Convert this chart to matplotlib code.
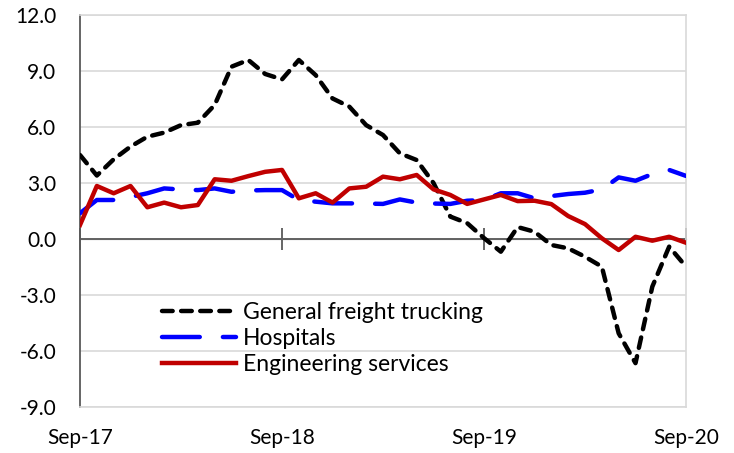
"""
Annual % change by industry, Sep-17 to Sep-20 (monthly).
"""

import matplotlib.pyplot as plt
import numpy as np

plt.rcParams["font.family"] = ["Lato", "DejaVu Sans"]

# Monthly values, Sep-17 .. Sep-20 (37 points)
tick_labels = ["Sep-17", "Sep-18", "Sep-19", "Sep-20"]
freight = [4.5, 3.4, 4.27, 4.95, 5.48, 5.7, 6.1, 6.23, 7.18, 9.23, 9.59, 8.84, 8.55,
           9.59, 8.78, 7.53, 7.09, 6.1, 5.57, 4.59, 4.23, 3.0, 1.2, 0.85, 0.05, -0.68,
           0.64, 0.39, -0.32, -0.5, -0.95, -1.48, -5.05, -6.65, -2.55, -0.41, -1.48]
hospitals = [1.38, 2.09, 2.09, 2.25, 2.45, 2.71, 2.65, 2.62, 2.71, 2.53, 2.6, 2.62, 2.62,
             2.09, 2.0, 1.91, 1.91, 1.9, 1.88, 2.12, 1.95, 1.9, 1.88, 2.05, 2.09, 2.45,
             2.45, 2.18, 2.3, 2.41, 2.48, 2.66, 3.3, 3.12, 3.48, 3.7, 3.38]
engineering = [0.75, 2.84, 2.45, 2.84, 1.7, 1.95, 1.7, 1.82, 3.2, 3.12, 3.37, 3.6, 3.7,
               2.18, 2.45, 1.95, 2.71, 2.8, 3.34, 3.2, 3.43, 2.66, 2.36, 1.88, 2.12, 2.36,
               2.03, 2.05, 1.87, 1.23, 0.8, 0.04, -0.59, 0.12, -0.09, 0.12, -0.2]

months = np.arange(len(freight))

fig = plt.figure(figsize=(7.34, 4.53), dpi=100)
ax = fig.add_axes([0.109, 0.1015, 0.8256, 0.8654])

grid_col = "#D9D9D9"
axis_col = "#595959"

ax.plot(months, freight, color="black", linewidth=3.2, linestyle=(0, (2.4, 1.9)),
        dash_capstyle="round", label="General freight trucking", zorder=3)
ax.plot(months, hospitals, color="#0000FF", linewidth=3.2, linestyle=(0, (8.5, 5.2)),
        dash_capstyle="round", label="Hospitals", zorder=3)
ax.plot(months, engineering, color="#C00000", linewidth=3.2,
        label="Engineering services", zorder=4)

ax.set_xlim(0, 36)
ax.set_ylim(-9, 12)
ax.set_yticks(np.arange(-9, 13, 3))
ax.set_yticklabels([f"{v:.1f}" for v in np.arange(-9, 13, 3)], fontsize=15)
ax.set_xticks([0, 12, 24, 36])
ax.set_xticklabels(tick_labels, fontsize=15)
ax.tick_params(axis="both", length=0)
ax.tick_params(axis="y", pad=17)
ax.tick_params(axis="x", pad=15)

ax.grid(True, axis="y", color=grid_col, linewidth=1.2, zorder=0)
ax.set_axisbelow(True)
for side in ["top", "right", "bottom"]:
    ax.spines[side].set_color(grid_col)
    ax.spines[side].set_linewidth(1.2)
ax.spines["left"].set_color(axis_col)
ax.spines["left"].set_linewidth(1.3)

# category axis crossing at zero, with cross ticks
ax.axhline(0, color=axis_col, linewidth=1.3, zorder=2)
zero_ax = ax.secondary_xaxis(9 / 21)
zero_ax.set_xticks([0, 12, 24, 36])
zero_ax.tick_params(direction="inout", length=16, width=1.3, color=axis_col,
                    labelbottom=False, labeltop=False)
zero_ax.spines["bottom"].set_color(axis_col)

ax.legend(loc="upper left", bbox_to_anchor=(0.1355, 0.268), frameon=False,
          fontsize=16.5, handlelength=3.23, handletextpad=0.3, labelspacing=0.22,
          borderaxespad=0, borderpad=0)

fig.savefig("out.png", dpi=100)
